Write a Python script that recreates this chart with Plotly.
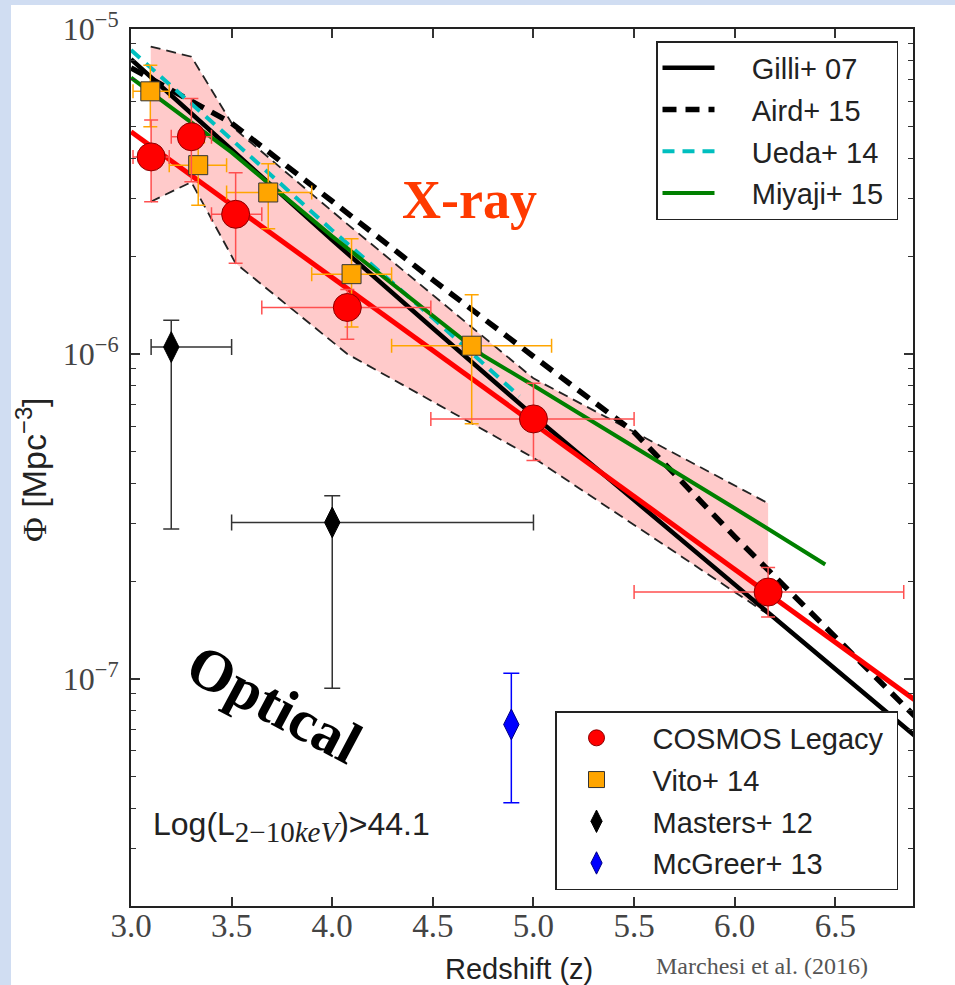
import plotly.graph_objects as go

# ---------------- data ----------------
# COSMOS Legacy (red circles)
cosmos_z = [3.10, 3.30, 3.52, 4.075, 5.00, 6.166]
cosmos_phi = [4.04e-6, 4.66e-6, 2.69e-6, 1.39e-6, 6.31e-7, 1.85e-7]
cosmos_phi_hi = [5.25e-6, 6.11e-6, 3.61e-6, 1.58e-6, 8.13e-7, 2.20e-7]
cosmos_phi_lo = [2.94e-6, 3.39e-6, 1.90e-6, 1.11e-6, 4.70e-7, 1.55e-7]
cosmos_z_lo = [3.01, 3.20, 3.40, 3.65, 4.49, 5.50]
cosmos_z_hi = [3.19, 3.40, 3.65, 4.49, 5.50, 6.84]

# COSMOS uncertainty band
band_z = [3.098, 3.30, 3.52, 4.075, 5.00, 6.166]
band_hi = [8.83e-6, 8.22e-6, 4.90e-6, 2.51e-6, 8.41e-7, 3.47e-7]
band_lo = [2.94e-6, 3.38e-6, 1.90e-6, 1.00e-6, 4.79e-7, 1.58e-7]

# COSMOS best fit
fit_z = [3.0, 4.0, 5.0, 6.0, 7.0]
fit_phi = [4.83e-6, 1.72e-6, 6.11e-7, 2.17e-7, 7.73e-8]

# Vito+14 (orange squares)
vito_z = [3.096, 3.334, 3.682, 4.096, 4.693]
vito_phi = [6.43e-6, 3.81e-6, 3.14e-6, 1.76e-6, 1.06e-6]
vito_phi_hi = [7.74e-6, 4.47e-6, 3.85e-6, 2.26e-6, 1.52e-6]
vito_phi_lo = [5.00e-6, 2.87e-6, 2.43e-6, 1.21e-6, 6.10e-7]
vito_z_lo = [3.01, 3.19, 3.475, 3.898, 4.295]
vito_z_hi = [3.19, 3.475, 3.898, 4.295, 5.09]

# Masters+12 (black diamonds)
masters_z = [3.20, 4.00]
masters_phi = [1.05e-6, 3.03e-7]
masters_phi_hi = [1.27e-6, 3.66e-7]
masters_phi_lo = [2.89e-7, 9.35e-8]
masters_z_lo = [3.10, 3.50]
masters_z_hi = [3.50, 5.00]

# McGreer+13 (blue diamond)
mcg_z = [4.89]
mcg_phi = [7.24e-8]
mcg_phi_hi = [1.04e-7]
mcg_phi_lo = [4.16e-8]

# model curves
gilli_z = [3.0, 3.5, 4.0, 4.5, 5.0, 5.5, 6.0, 6.5, 7.0]
gilli_phi = [8.07e-6, 4.27e-6, 2.24e-6, 1.20e-6, 6.46e-7, 3.55e-7, 1.95e-7, 1.07e-7, 5.89e-8]
aird_z = [3.0, 3.5, 4.0, 4.5, 5.0, 5.5, 6.0, 6.5, 7.0]
aird_phi = [7.59e-6, 5.13e-6, 2.95e-6, 1.69e-6, 9.82e-7, 5.75e-7, 2.74e-7, 1.35e-7, 6.61e-8]
ueda_z = [3.0, 3.5, 4.0, 4.5, 4.93]
ueda_phi = [8.61e-6, 4.57e-6, 2.40e-6, 1.29e-6, 7.41e-7]
miyaji_z = [3.0, 3.5, 4.0, 4.5, 4.75, 5.0, 5.5, 6.0, 6.45]
miyaji_phi = [7.08e-6, 4.17e-6, 2.30e-6, 1.31e-6, 9.89e-7, 8.00e-7, 5.19e-7, 3.35e-7, 2.25e-7]

x_ticks = [3.0, 3.5, 4.0, 4.5, 5.0, 5.5, 6.0, 6.5]
x_ticklabels = ["3.0", "3.5", "4.0", "4.5", "5.0", "5.5", "6.0", "6.5"]
y_ticks = [1e-7, 1e-6, 1e-5]
y_ticklabels = ["10<sup>−7</sup>", "10<sup>−6</sup>", "10<sup>−5</sup>"]

# ---------------- figure ----------------
NB = "\u00a0"


def up(v, hi):
    return [h - x for x, h in zip(v, hi)]


def down(v, lo):
    return [x - l for x, l in zip(v, lo)]


def lname(s, lead):
    return NB * lead + s + NB


fig = go.Figure()

# band
fig.add_trace(go.Scatter(x=band_z + band_z[::-1], y=band_hi + band_lo[::-1],
                         fill="toself", fillcolor="#ffcaca", mode="lines",
                         line=dict(width=0), showlegend=False, hoverinfo="skip"))
for yy in (band_hi, band_lo):
    fig.add_trace(go.Scatter(x=band_z, y=yy, mode="lines", showlegend=False,
                             line=dict(color="#222", width=1.8, dash="10px,6px")))

# models
fig.add_trace(go.Scatter(x=gilli_z, y=gilli_phi, mode="lines", name=lname("Gilli+ 07", 4),
                         legendgroup="g1", legendrank=1,
                         line=dict(color="black", width=4.5), legend="legend"))
fig.add_trace(go.Scatter(x=aird_z, y=aird_phi, mode="lines", name=lname("Aird+ 15", 4),
                         legendgroup="g2", legendrank=2,
                         line=dict(color="black", width=5.5, dash="14px,9px"), legend="legend"))
fig.add_trace(go.Scatter(x=ueda_z, y=ueda_phi, mode="lines", name=lname("Ueda+ 14", 4),
                         legendgroup="g3", legendrank=3,
                         line=dict(color="#00bfbf", width=4, dash="12px,8px"), legend="legend"))
fig.add_trace(go.Scatter(x=miyaji_z, y=miyaji_phi, mode="lines", name=lname("Miyaji+ 15", 4),
                         legendgroup="g4", legendrank=4,
                         line=dict(color="#008000", width=4), legend="legend"))
fig.add_trace(go.Scatter(x=fit_z, y=fit_phi, mode="lines", showlegend=False,
                         line=dict(color="#ff0000", width=5)))

# data points
fig.add_trace(go.Scatter(
    x=mcg_z, y=mcg_phi, mode="markers", name=lname("McGreer+ 13", 2), legend="legend2",
    legendgroup="p4", legendrank=4,
    marker=dict(symbol="diamond-tall", size=22, color="#0000ff", line=dict(color="#000080", width=1)),
    error_y=dict(type="data", symmetric=False, array=up(mcg_phi, mcg_phi_hi),
                 arrayminus=down(mcg_phi, mcg_phi_lo), color="#0000ff", thickness=1.5, width=8)))
fig.add_trace(go.Scatter(
    x=masters_z, y=masters_phi, mode="markers", name=lname("Masters+ 12", 2), legend="legend2",
    legendgroup="p3", legendrank=3,
    marker=dict(symbol="diamond-tall", size=22, color="black", line=dict(color="black", width=1)),
    error_y=dict(type="data", symmetric=False, array=up(masters_phi, masters_phi_hi),
                 arrayminus=down(masters_phi, masters_phi_lo), color="#333", thickness=1.5, width=8),
    error_x=dict(type="data", symmetric=False, array=up(masters_z, masters_z_hi),
                 arrayminus=down(masters_z, masters_z_lo), color="#333", thickness=1.5, width=8)))
fig.add_trace(go.Scatter(
    x=vito_z, y=vito_phi, mode="markers", name=lname("Vito+ 14", 2), legend="legend2",
    legendgroup="p2", legendrank=2,
    marker=dict(symbol="square", size=19, color="#ffa500", line=dict(color="#333", width=1)),
    error_y=dict(type="data", symmetric=False, array=up(vito_phi, vito_phi_hi),
                 arrayminus=down(vito_phi, vito_phi_lo), color="#ffa500", thickness=1.5, width=7),
    error_x=dict(type="data", symmetric=False, array=up(vito_z, vito_z_hi),
                 arrayminus=down(vito_z, vito_z_lo), color="#ffa500", thickness=1.5, width=7)))
fig.add_trace(go.Scatter(
    x=cosmos_z, y=cosmos_phi, mode="markers", name=lname("COSMOS Legacy", 2), legend="legend2",
    legendgroup="p1", legendrank=1,
    marker=dict(symbol="circle", size=28, color="#ff0000", line=dict(color="#8b0000", width=1)),
    error_y=dict(type="data", symmetric=False, array=up(cosmos_phi, cosmos_phi_hi),
                 arrayminus=down(cosmos_phi, cosmos_phi_lo), color="#ff5050", thickness=1.5, width=7),
    error_x=dict(type="data", symmetric=False, array=up(cosmos_z, cosmos_z_hi),
                 arrayminus=down(cosmos_z, cosmos_z_lo), color="#ff5050", thickness=1.5, width=7)))

W, H = 955, 985
ML, MR, MT, MB = 131, 42, 29, 79
PW, PH = W - ML - MR, H - MT - MB


def px(xp):
    return (xp - ML) / PW


def py(yp):
    return (H - MB - yp) / PH


legend_font = dict(family="Liberation Sans", size=29, color="#222")

fig.update_layout(
    width=W, height=H,
    margin=dict(l=ML, r=MR, t=MT, b=MB, pad=0, autoexpand=False),
    paper_bgcolor="white", plot_bgcolor="white",
    showlegend=True,
    legend=dict(x=px(898), xanchor="right", y=py(41), yanchor="top", bgcolor="white",
                bordercolor="#222", borderwidth=1.5, traceorder="grouped", tracegroupgap=1,
                font=legend_font, itemwidth=52),
    legend2=dict(x=px(898), xanchor="right", y=py(890), yanchor="bottom", bgcolor="white",
                 bordercolor="#222", borderwidth=1.5, traceorder="grouped", tracegroupgap=1,
                 font=legend_font, itemwidth=70),
    xaxis=dict(range=[3.0, 6.886], showgrid=False, zeroline=False, showline=True, automargin=False,
               linecolor="#222", linewidth=2, mirror="ticks", ticks="inside",
               ticklen=9, tickwidth=1.5, tickcolor="#333",
               tickvals=x_ticks, ticktext=x_ticklabels, ticklabelstandoff=-11,
               tickfont=dict(family="Liberation Serif", size=33, color="#444")),
    yaxis=dict(type="log", range=[-7.699, -5.0], showgrid=False, zeroline=False, showline=True,
               automargin=False,
               linecolor="#222", linewidth=2, mirror="ticks", ticks="inside",
               ticklen=9, tickwidth=1.5, tickcolor="#333",
               tickvals=y_ticks, ticktext=y_ticklabels, ticklabelstandoff=4,
               tickfont=dict(family="Liberation Serif", size=32, color="#444"),
               minor=dict(tickvals=[m * 10.0 ** e for e in (-8, -7, -6) for m in range(2, 10)],
                          ticks="inside", ticklen=5, tickwidth=1.2, tickcolor="#333")),
    shapes=[
        dict(type="rect", xref="paper", yref="paper", layer="below",
             x0=px(-5), x1=px(11), y0=py(H + 5), y1=py(-5), fillcolor="#d0ddf2", line=dict(width=0)),
        dict(type="rect", xref="paper", yref="paper", layer="below",
             x0=px(-5), x1=px(W + 5), y0=py(5), y1=py(-5), fillcolor="#d0ddf2", line=dict(width=0)),
    ],
    annotations=[
        dict(text="<b>X-ray</b>", x=4.684, y=-5.527, xref="x", yref="y", showarrow=False,
             font=dict(family="Liberation Serif", size=54, color="#ff3a00"), xanchor="center",
             yanchor="middle"),
        dict(text="<b>Optical</b>", x=3.715, y=-7.077, xref="x", yref="y", showarrow=False,
             textangle=28, xanchor="center", yanchor="middle",
             font=dict(family="Liberation Serif", size=59, color="black")),
        dict(text="Log(L<sub><span style='font-family:Liberation Serif;font-size:29px'>2−10<i>keV</i></span></sub>)>44.1",
             x=3.10, y=-7.456, xref="x", yref="y", showarrow=False, xanchor="left", yanchor="middle",
             font=dict(family="Liberation Sans", size=32, color="#222")),
        dict(text="Redshift (z)", x=px(519), y=py(969), xref="paper", yref="paper", showarrow=False,
             xanchor="center", yanchor="middle",
             font=dict(family="Liberation Sans", size=29, color="#222")),
        dict(text="<span style='font-family:Liberation Serif'>Φ</span> [Mpc<sup>−3</sup>]",
             x=px(31), y=py(470), xref="paper", yref="paper", showarrow=False, textangle=-90,
             xanchor="center", yanchor="middle",
             font=dict(family="Liberation Sans", size=34, color="#222")),
        dict(text="Marchesi et al. (2016)", x=px(762), y=py(966), xref="paper", yref="paper",
             showarrow=False, xanchor="center", yanchor="middle",
             font=dict(family="Liberation Serif", size=24, color="#555")),
    ],
)

fig.write_html("out.html", config={"displayModeBar": False},
               post_script="document.body.style.margin='0px';document.body.style.padding='0px';")
